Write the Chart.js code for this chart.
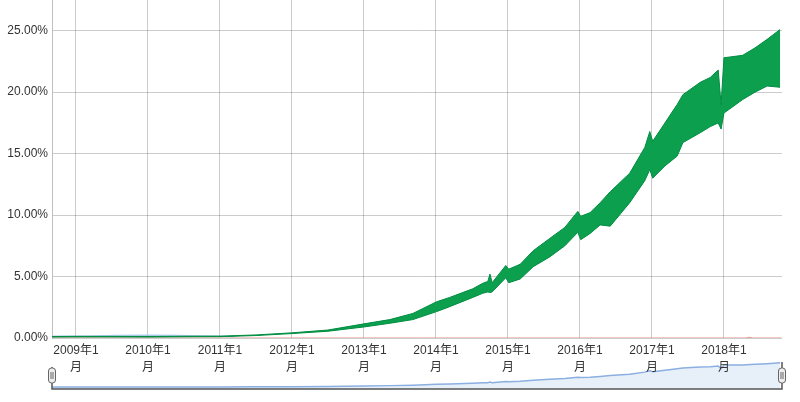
<!DOCTYPE html>
<html>
<head>
<meta charset="utf-8">
<script src="https://cdn.jsdelivr.net/npm/chart.js@4"></script>
<style>
  body { margin: 0; background: #fff; }
  #wrap { position: relative; width: 800px; height: 402px; }
  #main { position: absolute; left: 0; top: 0; z-index: 2; }
  #overview { position: absolute; left: 0; top: 355px; z-index: 1; }
</style>
</head>
<body>
<div id="wrap">
  <canvas id="overview" width="800" height="47"></canvas>
  <canvas id="main" width="800" height="402"></canvas>
</div>
<script>
// time as decimal years
const years = [2008.67, 2009.0, 2009.47, 2010.0, 2010.5, 2011.0, 2011.5, 2012.0, 2012.5, 2013.0,
  2013.36, 2013.68, 2014.01, 2014.19, 2014.51, 2014.65, 2014.72, 2014.75, 2014.78, 2014.97,
  2015.01, 2015.17, 2015.35, 2015.58, 2015.79, 2015.97, 2016.01, 2016.14, 2016.28, 2016.42,
  2016.69, 2016.9, 2016.97, 2017.01, 2017.18, 2017.35, 2017.43, 2017.67, 2017.81, 2017.92,
  2017.96, 2018.0, 2018.26, 2018.43, 2018.6, 2018.78];
const upperVals = [0.12, 0.13, 0.13, 0.12, 0.14, 0.15, 0.25, 0.42, 0.65, 1.15,
  1.5, 2.0, 2.95, 3.3, 4.0, 4.45, 4.6, 5.2, 4.5, 5.9,
  5.6, 6.0, 7.1, 8.1, 9.0, 10.3, 9.9, 10.2, 11.0, 11.9,
  13.4, 15.5, 16.8, 16.0, 17.5, 19.0, 19.8, 20.8, 21.2, 21.8,
  19.0, 22.8, 23.0, 23.6, 24.3, 25.1];
const lowerVals = [0.08, 0.09, 0.09, 0.08, 0.1, 0.11, 0.2, 0.36, 0.55, 0.9,
  1.2, 1.5, 2.15, 2.55, 3.3, 3.64, 3.75, 3.7, 3.75, 4.9,
  4.5, 4.8, 5.8, 6.6, 7.5, 8.6, 8.0, 8.5, 9.2, 9.1,
  11.0, 12.8, 13.7, 13.0, 14.0, 14.8, 15.9, 16.7, 17.2, 17.5,
  17.0, 18.3, 19.4, 20.0, 20.5, 20.4];

const blueYears = [2008.67, 2009.2, 2009.6, 2010.0, 2010.4, 2010.8, 2011.2];
const blueVals = [0.14, 0.17, 0.2, 0.22, 0.2, 0.16, 0.12];

const redYears = [2008.67, 2011.0, 2018.3, 2018.35, 2018.4, 2018.8];
const redVals = [0, 0, 0, 0.06, 0, 0];

const yearTicks = [2009, 2010, 2011, 2012, 2013, 2014, 2015, 2016, 2017, 2018];

const xMin = 2008.667, xMax = 2018.806;
const fontFamily = '"Liberation Sans", Arial, "Noto Sans CJK JP", sans-serif';

function pts(xs, ys) {
  return xs.map(function (x, i) { return {x: x, y: ys[i]}; });
}

new Chart(document.getElementById('main'), {
  type: 'line',
  data: {
    datasets: [
      {
        label: 'lower',
        data: pts(years, lowerVals),
        borderColor: 'rgb(0,140,65)',
        borderWidth: 1,
        pointRadius: 0,
        fill: false
      },
      {
        label: 'upper',
        data: pts(years, upperVals),
        borderColor: 'rgb(0,140,65)',
        borderWidth: 1,
        pointRadius: 0,
        backgroundColor: 'rgb(12,160,78)',
        fill: '-1'
      },
      {
        label: 'blue',
        data: pts(blueYears, blueVals),
        borderColor: 'rgba(150,190,230,0.8)',
        borderWidth: 1.5,
        pointRadius: 0,
        fill: false
      },
      {
        label: 'red',
        data: pts(redYears, redVals),
        borderColor: 'rgba(225,120,110,0.8)',
        borderWidth: 1,
        pointRadius: 0,
        fill: false
      }
    ]
  },
  options: {
    responsive: false,
    animation: false,
    layout: { padding: { top: 0, right: 18, bottom: 0, left: 0 } },
    plugins: { legend: { display: false }, tooltip: { enabled: false } },
    scales: {
      x: {
        type: 'linear',
        min: xMin,
        max: xMax,
        afterBuildTicks: function (axis) {
          axis.ticks = yearTicks.map(function (v) { return {value: v}; });
        },
        afterFit: function (axis) { axis.height = 64; axis.paddingLeft = 0; axis.paddingRight = 0; },
        grid: { color: 'rgba(0,0,0,0.2)', drawTicks: false },
        border: { display: false },
        ticks: {
          padding: 4,
          maxRotation: 0,
          autoSkip: false,
          color: '#333',
          font: { family: fontFamily, size: 12, lineHeight: 1.4 },
          callback: function (v) { return [v + '年1', '月']; }
        }
      },
      y: {
        min: 0,
        max: 27.5,
        afterBuildTicks: function (axis) {
          axis.ticks = [0, 5, 10, 15, 20, 25].map(function (v) { return {value: v}; });
        },
        afterFit: function (axis) { axis.width = 52; axis.paddingTop = 0; axis.paddingBottom = 0; },
        grid: { color: 'rgba(0,0,0,0.2)', drawTicks: false },
        border: { display: true, color: 'rgba(0,0,0,0.25)' },
        ticks: {
          padding: 4,
          color: '#333',
          font: { family: fontFamily, size: 12 },
          callback: function (v) { return v.toFixed(2) + '%'; }
        }
      }
    }
  }
});

// range selector handles and frame
const rangeFrame = {
  id: 'rangeFrame',
  afterDraw: function (chart) {
    const ctx = chart.ctx;
    const a = chart.chartArea;
    ctx.save();
    ctx.strokeStyle = '#555';
    ctx.lineWidth = 1.5;
    ctx.beginPath();
    ctx.moveTo(a.left, a.top + 5);
    ctx.lineTo(a.left, a.bottom);
    ctx.lineTo(a.right, a.bottom);
    ctx.lineTo(a.right, a.top);
    ctx.stroke();
    [a.left, a.right].forEach(function (x) {
      ctx.fillStyle = '#eee';
      ctx.strokeStyle = '#666';
      ctx.lineWidth = 1;
      const w = 7, h = 15, y = a.top + 6;
      ctx.beginPath();
      ctx.roundRect(x - w / 2, y, w, h, 3);
      ctx.fill();
      ctx.stroke();
      ctx.beginPath();
      ctx.moveTo(x - 1, y + 4); ctx.lineTo(x - 1, y + h - 4);
      ctx.moveTo(x + 1, y + 4); ctx.lineTo(x + 1, y + h - 4);
      ctx.stroke();
    });
    ctx.restore();
  }
};

new Chart(document.getElementById('overview'), {
  type: 'line',
  data: {
    datasets: [{
      data: pts(years, upperVals),
      borderColor: 'rgb(140,175,225)',
      borderWidth: 1.5,
      pointRadius: 0,
      backgroundColor: 'rgba(225,236,248,0.8)',
      fill: 'start'
    }]
  },
  options: {
    responsive: false,
    animation: false,
    layout: { padding: { top: 7, right: 18, bottom: 13, left: 52 } },
    plugins: { legend: { display: false }, tooltip: { enabled: false } },
    scales: {
      x: { type: 'linear', min: xMin, max: xMax, display: false },
      y: { min: -2, max: 26, display: false }
    }
  },
  plugins: [rangeFrame]
});
</script>
</body>
</html>
